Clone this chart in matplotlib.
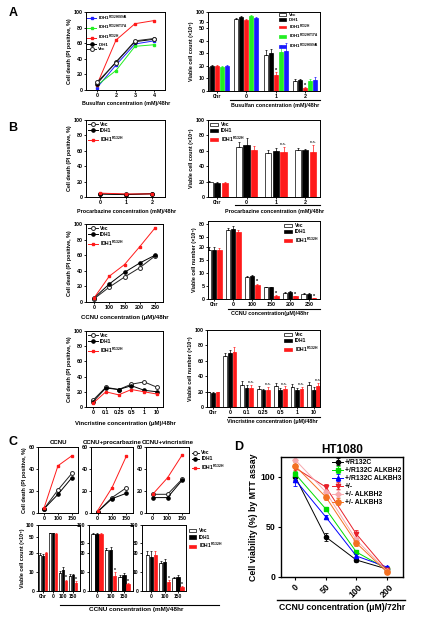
import numpy as np
import matplotlib
matplotlib.use('Agg')
import matplotlib.pyplot as plt
from matplotlib.lines import Line2D

plt.rcParams['font.family'] = ['Liberation Sans', 'DejaVu Sans']
plt.rcParams['font.weight'] = 'bold'
plt.rcParams['axes.labelweight'] = 'bold'
plt.rcParams['mathtext.default'] = 'regular'

# ---------------- DATA ----------------
# Panel A (busulfan)
busulfan_doses = ['0', '2', '3', '4']
A_s94a = [3, 32, 59, 63]
A_t77a = [6, 25, 56, 58]
A_r132h = [7, 64, 85, 89]
A_idh1 = [8, 36, 62, 65]
A_vec = [10, 35, 63, 66]

busulfan_groups = ['0hr', '0', '1', '2']
Ab_vec = [19, 79, 29, 8.3]
Ab_vec_err = [1, 3, 4, 1.2]
Ab_idh1 = [20, 86, 30.6, 8.5]
Ab_idh1_err = [1, 3, 3, 1.2]
Ab_r132h = [20, 76, 12.8, 2.2]
Ab_r132h_err = [1, 3, 2, 0.8]
Ab_t77a = [19, 89, 31, 8]
Ab_t77a_err = [1, 3, 6, 1.5]
Ab_s94a = [20, 81, 32, 8.8]
Ab_s94a_err = [1, 3, 6, 2.5]

# Panel B procarbazine
proc_doses = ['0', '1', '2']
Bp_vec = [4, 3.5, 4]
Bp_idh1 = [4, 3, 4.5]
Bp_r132h = [5, 4, 4]
proc_groups = ['0hr', '0', '1', '2']
Bpb_vec = [20, 65, 57, 61]
Bpb_vec_err = [1, 6, 4, 2]
Bpb_idh1 = [18, 67.5, 60, 61]
Bpb_idh1_err = [1, 9, 3, 1]
Bpb_r132h = [18, 61, 59, 58]
Bpb_r132h_err = [1, 5, 6, 10]

# Panel B CCNU
ccnu_doses = ['0', '100', '150', '200', '250']
Bc_vec = [4, 19, 32, 44, 59]
Bc_idh1 = [5, 23, 38, 50, 60]
Bc_r132h = [5, 33, 48, 71, 95]
ccnu_groups = ['0hr', '0', '100', '150', '200', '250']
Bcb_vec = [18.8, 66, 8.5, 4.6, 2.3, 2.0]
Bcb_vec_err = [1.5, 4, 0.4, 0.2, 0.3, 0.3]
Bcb_idh1 = [18.8, 69, 8.8, 4.5, 2.7, 2.0]
Bcb_idh1_err = [1.5, 6, 0.6, 0.2, 0.3, 0.3]
Bcb_r132h = [18.8, 62, 5.4, 1.2, 1.0, 0.3]
Bcb_r132h_err = [1, 4, 0.5, 0.3, 0.2, 0.1]

# Panel B vincristine
vinc_doses = ['0', '0.1', '0.25', '0.5', '1', '10']
Bv_vec = [9, 26, 23, 30, 33, 26]
Bv_idh1 = [7, 25, 23, 28, 22, 20]
Bv_r132h = [5, 20, 16, 23, 20, 17]
vinc_groups = ['0hr', '0', '0.1', '0.25', '0.5', '1', '10']
Bvb_vec = [19, 66, 28, 24, 27, 26, 28]
Bvb_vec_err = [1, 4, 6, 3, 4, 4, 4]
Bvb_idh1 = [18, 70, 25, 22, 22, 22, 22]
Bvb_idh1_err = [1, 4, 3, 2, 3, 3, 4]
Bvb_r132h = [19, 71, 25, 22, 23, 23, 27]
Bvb_r132h_err = [1, 7, 4, 4, 4, 3, 4]

# Panel C
C_doses = ['0', '100', '150']
C_titles = ['CCNU', 'CCNU+procarbazine', 'CCNU+vincristine']
C1_vec = [4, 21, 36]
C1_idh1 = [4, 17, 32]
C1_r132h = [5, 43, 52]
C2_vec = [1, 14, 23]
C2_idh1 = [1, 13, 18]
C2_r132h = [2, 23, 52]
C3_vec = [17, 17, 31]
C3_idh1 = [14, 14, 30]
C3_r132h = [17, 32, 53]

C4_groups = ['0hr', '0', '100', '150']
C4_vec = [19, 65, 9.4, 7.9]
C4_vec_err = [1, 2, 1, 0.8]
C4_idh1 = [18.4, 66, 11, 8.4]
C4_idh1_err = [1, 2, 1.5, 0.8]
C4_r132h = [20, 64, 5.4, 4.2]
C4_r132h_err = [1, 2, 0.6, 0.8]
C56_groups = ['0', '100', '150']
C5_vec = [65, 23, 7.4]
C5_vec_err = [2, 2, 1]
C5_idh1 = [65, 23, 8.4]
C5_idh1_err = [2, 3, 1]
C5_r132h = [65, 8, 3.5]
C5_r132h_err = [2, 2, 0.5]
C6_vec = [19, 14.7, 6.8]
C6_vec_err = [3, 1, 0.5]
C6_idh1 = [18, 15.3, 7.4]
C6_idh1_err = [4, 1.5, 0.8]
C6_r132h = [19, 4.7, 2.1]
C6_r132h_err = [3, 1, 0.5]

# Panel D
D_doses = ['0', '50', '100', '200']
D_r132c = [100, 40, 17, 8]
D_r132c_err = [3, 4, 2, 1]
D_r132c_a2 = [103, 68, 25, 8]
D_r132c_a2_err = [3, 2, 2, 1]
D_r132c_a3 = [97, 60, 21, 10]
D_r132c_a3_err = [6, 2, 2, 1]
D_wt = [109, 90, 43, 7]
D_wt_err = [4, 3, 4, 1]
D_wt_a2 = [117, 85, 37, 6]
D_wt_a2_err = [8, 3, 3, 1]
D_wt_a3 = [111, 80, 34, 5]
D_wt_a3_err = [4, 3, 3, 1]

# ---------------- HELPERS ----------------
W, H = 424, 624
fig = plt.figure(figsize=(W / 100, H / 100), dpi=100)
FS = 3.9
LFS = 3.5
RED = '#ff1a1a'


def ax_px(l, t, r, b):
    return fig.add_axes([l / W, 1 - b / H, (r - l) / W, (b - t) / H])


def ftext(x, y, s, size=FS, ha='center', va='center', **kw):
    fig.text(x / W, 1 - y / H, s, fontsize=size, fontweight='bold', ha=ha, va=va, **kw)


def fline(x1, x2, y, lw=0.8):
    fig.add_artist(Line2D([x1 / W, x2 / W], [1 - y / H, 1 - y / H], color='k', lw=lw,
                          transform=fig.transFigure))


def style(ax, fs=FS):
    ax.tick_params(labelsize=fs, length=1.5, width=0.6, pad=1)
    for s in ax.spines.values():
        s.set_linewidth(0.7)


def piecewise(xin, xout):
    xin = np.concatenate([[-1000.0], np.asarray(xin, float), [10000.0]])
    xo = np.asarray(xout, float)
    s_end = (xo[-1] - xo[-2]) / (xin[-2] - xin[-3])
    xout = np.concatenate([[-1000.0], xo, [xo[-1] + s_end * (10000.0 - xin[-2])]])

    def fwd(v):
        return np.interp(v, xin, xout)

    def inv(v):
        return np.interp(v, xout, xin)
    return fwd, inv


VEC = dict(color='#222222', marker='o', mfc='white', mec='#222222', ms=2.8, lw=0.7, mew=0.7)
IDH = dict(color='black', marker='o', ms=2.3, lw=0.7)
R132 = dict(color=RED, marker='s', ms=2.0, lw=0.7)


def line_panel(ax, labels, series, xlim, ylim, yticks, legend=True, fs=FS):
    x = np.arange(len(labels))
    for vals, st, lab in series:
        ax.plot(x, vals, label=lab, **st)
    ax.set_xticks(x, labels)
    ax.set_xlim(*xlim)
    ax.set_ylim(*ylim)
    ax.set_yticks(yticks)
    style(ax, fs)
    if legend:
        ax.legend(loc='upper left', fontsize=LFS, frameon=False, handlelength=2.0,
                  labelspacing=0.25, borderpad=0.3, handletextpad=0.5, borderaxespad=0.1)


def bar_panel(ax, groups, series, xlim, ylim, yticks, scale=None, step=0.27,
              legend_loc='upper right', stars=(), ns=(), legend=True, fs=FS):
    if scale is not None:
        ax.set_yscale('function', functions=scale)
    n = len(series)
    x = np.arange(len(groups))
    tops = {}
    for i, (vals, errs, fc, ec, errc, lab) in enumerate(series):
        off = (i - (n - 1) / 2) * step
        ax.bar(x + off, vals, step * 0.82, color=fc, edgecolor=ec, lw=0.5, label=lab, zorder=2)
        ax.errorbar(x + off, vals, yerr=[np.zeros(len(vals)), errs], fmt='none', ecolor=errc,
                    elinewidth=0.5, capsize=0.9, capthick=0.5, zorder=3)
        tops[i] = (x + off, np.asarray(vals) + np.asarray(errs))
    for si, gi in stars:
        xs, ts = tops[si]
        ax.annotate('*', (xs[gi], ts[gi]), xytext=(0, -0.5), textcoords='offset points',
                    ha='center', va='bottom', fontsize=fs, color='k')
    for gi in ns:
        xs, ts = tops[n - 1]
        ax.annotate('n.s.', (xs[gi], ts[gi]), xytext=(0, 0.5), textcoords='offset points',
                    ha='center', va='bottom', fontsize=fs * 0.8, fontweight='normal')
    ax.set_xticks(x, groups)
    ax.set_xlim(*xlim)
    ax.set_ylim(*ylim)
    ax.set_yticks(yticks, [str(t) for t in yticks])
    ax.yaxis.set_minor_locator(matplotlib.ticker.NullLocator())
    style(ax, fs)
    if legend:
        ax.legend(loc=legend_loc, fontsize=LFS, frameon=False, handlelength=1.6, handleheight=0.6,
                  labelspacing=0.25, borderpad=0.3, handletextpad=0.6, borderaxespad=0.1)


def three(vec, vecerr, idh, idherr, r, rerr):
    return [(vec, vecerr, 'white', 'black', 'black', 'Vec'),
            (idh, idherr, 'black', 'black', 'black', 'IDH1'),
            (r, rerr, RED, RED, RED, 'IDH1$^{R132H}$')]


# ---------------- PANEL A ----------------
ftext(13, 13, 'A', size=9)
ax = ax_px(86, 12, 165, 90)
line_panel(ax, busulfan_doses,
           [(A_s94a, dict(color='#2020ff', marker='s', ms=2.0, lw=0.7), 'IDH1$^{R132H/S94A}$'),
            (A_t77a, dict(color='#22ee22', marker='s', ms=2.0, lw=0.7), 'IDH1$^{R132H/T77A}$'),
            (A_r132h, R132, 'IDH1$^{R132H}$'),
            (A_idh1, IDH, 'IDH1'),
            (A_vec, VEC, 'Vec')],
           (-0.58, 3.58), (0, 100), [0, 20, 40, 60, 80, 100])
ax.legend(loc='upper left', fontsize=3.2, frameon=False, handlelength=2.0,
          labelspacing=0.1, borderpad=0.2, handletextpad=0.5, borderaxespad=0.1)
ax.set_ylabel('Cell death (PI positive, %)', fontsize=FS, labelpad=1)
ftext(126, 103, 'Busulfan concentration (mM)/48hr')

ax = ax_px(208, 12, 320, 91)
bar_panel(ax, busulfan_groups,
          [(Ab_vec, Ab_vec_err, 'white', 'black', 'black', 'Vec'),
           (Ab_idh1, Ab_idh1_err, 'black', 'black', 'black', 'IDH1'),
           (Ab_r132h, Ab_r132h_err, RED, RED, RED, 'IDH1$^{R132H}$'),
           (Ab_t77a, Ab_t77a_err, '#22ee22', '#22ee22', '#22ee22', 'IDH1$^{R132H/T77A}$'),
           (Ab_s94a, Ab_s94a_err, '#1a1aff', '#1a1aff', '#1a1aff', 'IDH1$^{R132H/S94A}$')],
          (-0.3, 3.5), (0, 100), [0, 10, 20, 30, 40, 50, 70, 100],
          scale=piecewise([0, 50, 100], [0, 50, 63]), step=0.17, stars=[(2, 2), (2, 3)])
ax.legend(loc='upper right', fontsize=3.2, frameon=False, handlelength=1.6, handleheight=0.6,
          labelspacing=0.1, borderpad=0.2, handletextpad=0.6, borderaxespad=0.1)
ax.set_ylabel('Viable cell count (×10⁴)', fontsize=FS, labelpad=1)
fline(230, 320, 100)
ftext(275, 106, 'Busulfan concentration (mM)/48hr')

# ---------------- PANEL B ----------------
ftext(13, 128, 'B', size=9)
ax = ax_px(86, 120, 165, 197)
line_panel(ax, proc_doses, [(Bp_vec, VEC, 'Vec'), (Bp_idh1, IDH, 'IDH1'), (Bp_r132h, R132, 'IDH1$^{R132H}$')],
           (-0.54, 2.5), (0, 100), [0, 20, 40, 60, 80, 100])
ax.set_ylabel('Cell death (PI positive, %)', fontsize=FS, labelpad=1)
ftext(127, 212, 'Procarbazine concentration (mM)/48hr')

ax = ax_px(208, 120, 320, 197)
bar_panel(ax, proc_groups, three(Bpb_vec, Bpb_vec_err, Bpb_idh1, Bpb_idh1_err, Bpb_r132h, Bpb_r132h_err),
          (-0.31, 3.5), (0, 100), [0, 20, 40, 60, 80, 100], step=0.26,
          legend_loc='upper left', ns=[2, 3])
ax.set_ylabel('Viable cell count (×10⁴)', fontsize=FS, labelpad=1)
fline(235, 320, 205)
ftext(275, 211, 'Procarbazine concentration (mM)/48hr')

ax = ax_px(86, 224, 163, 302)
line_panel(ax, ccnu_doses, [(Bc_vec, VEC, 'Vec'), (Bc_idh1, IDH, 'IDH1'), (Bc_r132h, R132, 'IDH1$^{R132H}$')],
           (-0.52, 4.52), (0, 100), [0, 20, 40, 60, 80, 100])
ax.set_ylabel('Cell death (PI positive, %)', fontsize=FS, labelpad=1)
ftext(125, 318, 'CCNU concentration (μM)/48hr', size=4.3)

ax = ax_px(208, 221, 320, 299)
bar_panel(ax, ccnu_groups, three(Bcb_vec, Bcb_vec_err, Bcb_idh1, Bcb_idh1_err, Bcb_r132h, Bcb_r132h_err),
          (-0.32, 5.58), (0, 87), [0, 5, 10, 15, 20, 50, 80],
          scale=piecewise([0, 20, 50, 80], [0, 20, 23.85, 28.85]), step=0.28,
          stars=[(2, 2), (2, 3), (2, 4), (2, 5)])
ax.set_ylabel('Viable cell number (×10⁴)', fontsize=FS, labelpad=1)
fline(228, 320, 309)
ftext(270, 314, 'CCNU concentration(μM)/48hr')

ax = ax_px(86, 331, 163, 407)
line_panel(ax, vinc_doses, [(Bv_vec, VEC, 'Vec'), (Bv_idh1, IDH, 'IDH1'), (Bv_r132h, R132, 'IDH1$^{R132H}$')],
           (-0.55, 5.47), (0, 100), [0, 20, 40, 60, 80, 100])
ax.set_ylabel('Cell death (PI positive, %)', fontsize=FS, labelpad=1)
ftext(125, 423, 'Vincristine concentration (μM)/48hr', size=4.3)

ax = ax_px(207, 330, 320, 407)
bar_panel(ax, vinc_groups, three(Bvb_vec, Bvb_vec_err, Bvb_idh1, Bvb_idh1_err, Bvb_r132h, Bvb_r132h_err),
          (-0.36, 6.37), (0, 100), [0, 20, 40, 60, 80, 100], step=0.27, ns=[2, 3, 4, 5, 6])
ax.set_ylabel('Viable cell number (×10⁴)', fontsize=FS, labelpad=1)
fline(228, 320, 417)
ftext(272, 422, 'Vincristine concentration (μM)/48hr')

# ---------------- PANEL C ----------------
ftext(13, 442, 'C', size=9)
C_lines = [(C1_vec, C1_idh1, C1_r132h), (C2_vec, C2_idh1, C2_r132h), (C3_vec, C3_idh1, C3_r132h)]
C_boxes = [(38, 78), (91, 133), (146, 189)]
for i, ((v, d, r), (l, rr)) in enumerate(zip(C_lines, C_boxes)):
    ax = ax_px(l, 447, rr, 513)
    line_panel(ax, C_doses, [(v, VEC, 'Vec'), (d, IDH, 'IDH1'), (r, R132, 'IDH1$^{R132H}$')],
               (-0.45, 2.45), (0, 60), [0, 20, 40, 60], legend=False)
    ax.set_title(C_titles[i], fontsize=4.4, fontweight='bold', pad=2)
    if i == 0:
        ax.set_ylabel('Cell death (PI positive, %)', fontsize=FS, labelpad=1)
    if i == 2:
        ax.legend(loc='upper left', bbox_to_anchor=(0.98, 1.0), fontsize=LFS, frameon=False,
                  handlelength=1.6, labelspacing=0.2, borderpad=0.2, handletextpad=0.4)

CFS = 3.6
ax = ax_px(38, 525, 80, 591)
bar_panel(ax, C4_groups, three(C4_vec, C4_vec_err, C4_idh1, C4_idh1_err, C4_r132h, C4_r132h_err),
          (-0.5, 3.7), (0, 100), [0, 10, 20, 50, 100],
          scale=piecewise([0, 20, 50, 100], [0, 20, 28.4, 34.7]), step=0.28,
          stars=[(2, 2), (2, 3)], legend=False, fs=CFS)
ax.set_ylabel('Viable cell count (×10⁴)', fontsize=FS, labelpad=1)

ax = ax_px(89, 525, 133, 591)
bar_panel(ax, C56_groups, three(C5_vec, C5_vec_err, C5_idh1, C5_idh1_err, C5_r132h, C5_r132h_err),
          (-0.6, 2.67), (0, 100), [0, 10, 20, 30, 100],
          scale=piecewise([0, 20, 30, 100], [0, 20, 25.3, 34.7]), step=0.3,
          stars=[(2, 1), (2, 2)], legend=False, fs=CFS)

ax = ax_px(142, 525, 186, 591)
bar_panel(ax, C56_groups, three(C6_vec, C6_vec_err, C6_idh1, C6_idh1_err, C6_r132h, C6_r132h_err),
          (-0.7, 2.6), (0, 100), [0, 10, 20, 30, 100],
          scale=piecewise([0, 20, 30, 100], [0, 20, 25.3, 34.7]), step=0.3,
          stars=[(2, 1), (2, 2)], legend=False, fs=CFS)
ax.legend(loc='upper left', bbox_to_anchor=(0.98, 1.0), fontsize=LFS, frameon=False,
          handlelength=1.6, handleheight=0.7, labelspacing=0.25, borderpad=0.2, handletextpad=0.5)
fline(60, 219, 605)
ftext(136, 610, 'CCNU concentration (mM)/48hr', size=4.6)

# ---------------- PANEL D ----------------
ftext(239, 447, 'D', size=9)
ax = ax_px(281, 457, 403, 577)
xd = np.arange(len(D_doses))
D_series = [
    (D_r132c, D_r132c_err, dict(color='black', marker='o', ms=3.0), '+/R132C'),
    (D_r132c_a2, D_r132c_a2_err, dict(color='#00dd00', marker='s', ms=3.0), '+/R132C ALKBH2'),
    (D_r132c_a3, D_r132c_a3_err, dict(color='#0000ff', marker='^', ms=3.0), '+/R132C ALKBH3'),
    (D_wt, D_wt_err, dict(color='#e8202a', marker='v', ms=3.2), '+/-'),
    (D_wt_a2, D_wt_a2_err, dict(color='#f7a8ae', marker='D', ms=2.8), '+/- ALKBH2'),
    (D_wt_a3, D_wt_a3_err, dict(color='#f37021', marker='o', ms=3.8), '+/- ALKBH3'),
]
for vals, errs, st, lab in D_series:
    ax.errorbar(xd, vals, yerr=errs, lw=0.7, elinewidth=0.6, capsize=1.5, capthick=0.6,
                label=lab, **st)
ax.set_xticks(xd, D_doses, rotation=45, ha='center')
ax.set_xlim(-0.47, 3.53)
ax.set_ylim(0, 120)
ax.set_yticks([0, 50, 100])
ax.tick_params(labelsize=6.3, length=2.5, width=0.8, pad=1.5)
for s in ax.spines.values():
    s.set_linewidth(1.0)
ax.set_ylabel('Cell viability (%) by MTT assay', fontsize=6.3, labelpad=2)
ax.legend(loc='upper right', fontsize=4.9, frameon=False, handlelength=1.6, labelspacing=0.15,
          borderpad=0.2, handletextpad=0.2, borderaxespad=0.1)
ax.set_title('HT1080', fontsize=8.5, fontweight='bold', pad=3)
fline(277, 405, 600, lw=1.0)
ftext(342, 608, 'CCNU concentration (μM)/72hr', size=6.2)

fig.savefig('out.png', dpi=100, facecolor='white')
